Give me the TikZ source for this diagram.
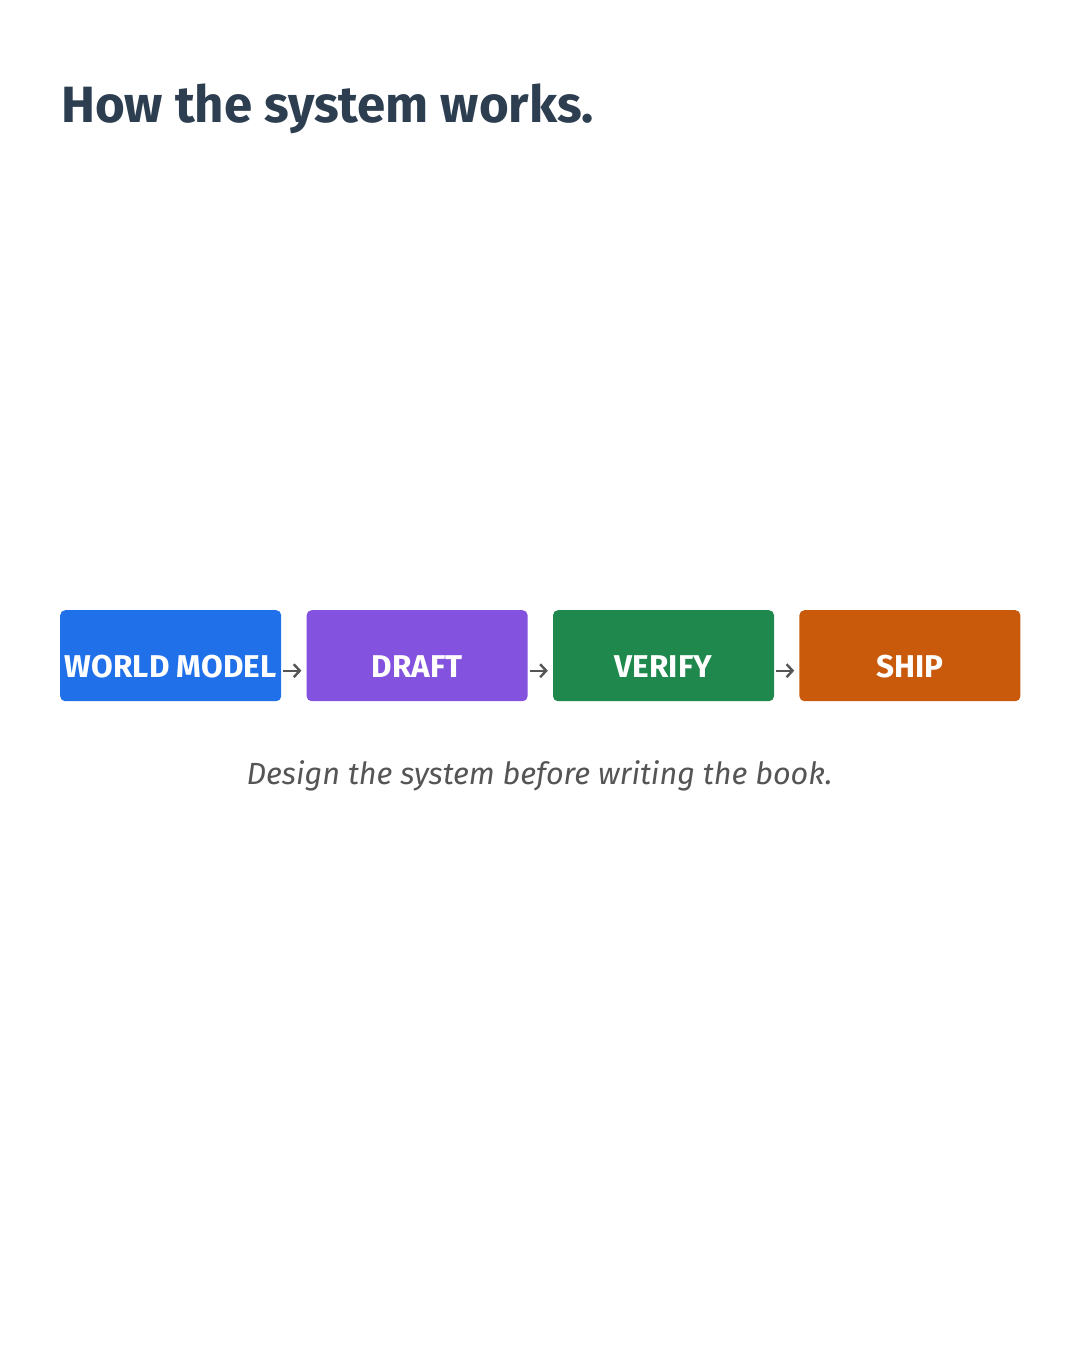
\documentclass[tikz,border=0pt]{standalone}
\usepackage{fontspec}
\setmainfont{Fira Sans}
\usetikzlibrary{positioning, arrows.meta}

\definecolor{titleink}{HTML}{2C3E50}
\definecolor{capink}{HTML}{555555}
\definecolor{arrowink}{HTML}{555555}
\definecolor{wmblue}{HTML}{2070EA}
\definecolor{draftpurple}{HTML}{8352DE}
\definecolor{verifygreen}{HTML}{1F884D}
\definecolor{shiporange}{HTML}{C9590B}

\tikzset{
  stagebox/.style={rectangle, rounded corners=5pt, minimum width=221pt, minimum height=91pt,
    inner xsep=0pt, inner ysep=0pt, text height=43pt, text depth=0pt, text=white,
    font=\fontsize{31.5}{34}\selectfont\bfseries},
  flow/.style={-{Straight Barb[length=6pt, width=13pt]}, arrowink, line width=2.4pt,
    shorten <=2pt, shorten >=5pt}
}

\begin{document}
\begin{tikzpicture}[x=1pt, y=-1pt, node distance=25pt]
        \useasboundingbox (0,0) rectangle (1080,1350);
        % Heading
        \node (heading) [anchor=base west, inner sep=0pt, text=titleink,
          font=\fontsize{51}{56}\selectfont\bfseries] at (61,122) {How the system works.};

        % Draw the blocks
        \node (world)   [stagebox, fill=wmblue, anchor=north west] at (60,610) {WORLD MODEL};
        \node (draft)   [stagebox, fill=draftpurple, right=of world] {DRAFT};
        \node (verify)  [stagebox, fill=verifygreen, right=of draft] {VERIFY};
        \node (ship)    [stagebox, fill=shiporange, right=of verify] {SHIP};

        % Draw the connecting arrows
        \draw [flow] ([yshift=-15pt]world.east) -- ([yshift=-15pt]draft.west);
        \draw [flow] ([yshift=-15pt]draft.east) -- ([yshift=-15pt]verify.west);
        \draw [flow] ([yshift=-15pt]verify.east) -- ([yshift=-15pt]ship.west);

        % Caption
        \node (caption) [anchor=base, inner sep=0pt, text=capink,
          font=\fontsize{30.6}{34}\selectfont\itshape] at (539.5,784) {Design the system before writing the book.};
    \end{tikzpicture}
\end{document}
